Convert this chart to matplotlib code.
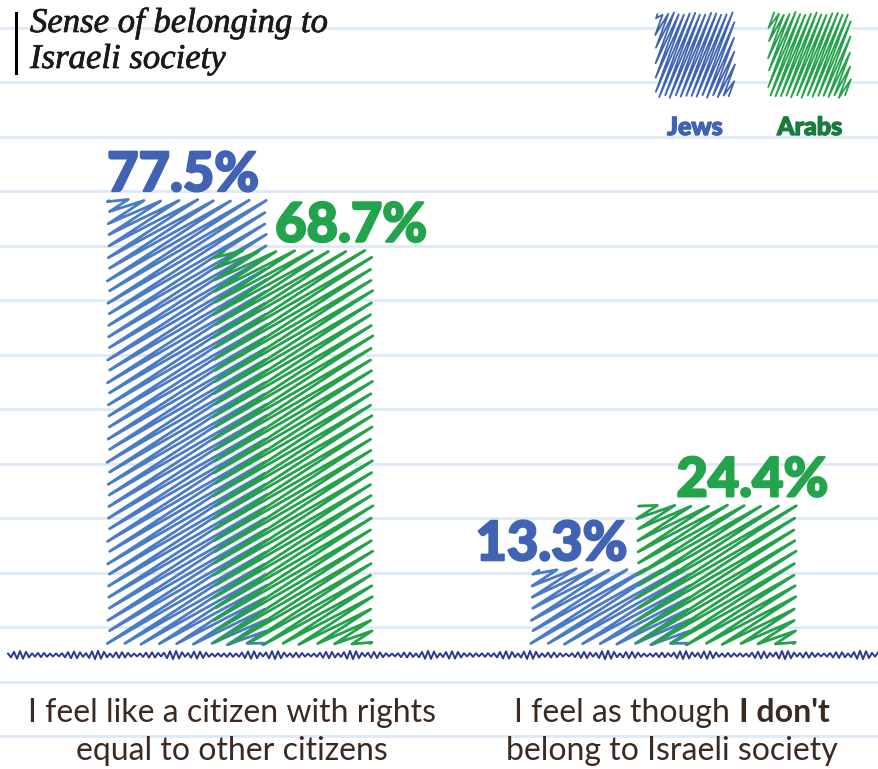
import matplotlib.pyplot as plt
import matplotlib.patheffects as pe
import numpy as np
from matplotlib.lines import Line2D
from matplotlib.transforms import IdentityTransform

# data
cat_line1 = ['I feel like a citizen with rights', 'I feel as though ']
cat_bold1 = ['', "I don't"]
cat_line2 = ['equal to other citizens', 'belong to Israeli society']
groups = ['Jews', 'Arabs']
jews = [77.5, 13.3]
arabs = [68.7, 24.4]

W, H = 879, 769
BLUE_TXT = '#4063b3'
BLUE_BAR = '#4a7bc4'
GREEN_TXT = '#22a34c'
GREEN_BAR = '#23a14b'
ARABS_LEG = '#1b7a3d'
BROWN = '#3a2a22'
RULE = '#dce9f6'
NAVY = '#2b3a8e'

fig = plt.figure(figsize=(W / 100, H / 100), dpi=100)
fig.patch.set_facecolor('white')


def fy(p):
    # pixel from top -> figure fraction
    return 1 - p / H


# notebook rules
for k in range(14):
    yy = fy(27.5 + 54.5 * k)
    fig.add_artist(Line2D([0, 1], [yy, yy], transform=fig.transFigure,
                          color=RULE, lw=1.9, zorder=0))

ax = fig.add_axes([0, fy(645), 1, 5.75 * 90 / H])
ax.set_xlim(-0.567, 1.509)
ax.set_ylim(0, 90)
ax.axis('off')
ax.patch.set_alpha(0)

x = np.arange(len(jews))
bw = 0.378
off = 0.125
b_j = ax.bar(x - off, jews, bw, color='none', edgecolor='none')
b_a = ax.bar(x + off, arabs, bw, color='none', edgecolor='none')


def scribble(x0, y0, x1, y1, angle, perp, color, lw, phase, z):
    # back-and-forth pen strokes filling a box, in display pixels
    k = np.tan(np.radians(angle))
    step = perp / np.cos(np.radians(angle))
    cmin = y0 - k * x1
    cmax = y1 - k * x0
    xs, ys = [], []
    i = 0
    for c in np.arange(cmin + step * 0.3, cmax, step):
        xa = max(x0, (y0 - c) / k)
        xb = min(x1, (y1 - c) / k)
        if xb - xa < 3:
            continue
        L = np.hypot(xb - xa, k * (xb - xa))
        ux, uy = (xb - xa) / L, k * (xb - xa) / L
        ja = 3.0 * abs(np.sin(1.37 * i + phase))
        jb = 3.0 * abs(np.cos(0.83 * i + phase))
        xs += [xa + ux * ja, xb - ux * jb]
        ys += [k * xa + c + uy * ja, k * xb + c - uy * jb]
        i += 1
    fig.add_artist(Line2D(xs, ys, transform=IdentityTransform(), color=color,
                          lw=lw, solid_joinstyle='round', solid_capstyle='round',
                          zorder=z))


fig.canvas.draw()
for bars, col, ph, z in [(b_j, BLUE_BAR, 0.3, 3), (b_a, GREEN_BAR, 1.1, 4)]:
    for r in bars:
        (px0, py0), (px1, py1) = ax.transData.transform(
            [(r.get_x(), 0), (r.get_x() + r.get_width(), r.get_height())])
        scribble(px0, py0, px1, py1, 33, 9.5, col, 2.0, ph, z)

# value labels
lab_font = dict(family=['Lato', 'DejaVu Sans'], weight='black', fontsize=39)
specs = [
    (b_j[0], jews[0], BLUE_TXT, 'left', 'left', 0),
    (b_a[0], arabs[0], GREEN_TXT, 'jright', 'left', 8),
    (b_j[1], jews[1], BLUE_TXT, 'aleft', 'right', -9),
    (b_a[1], arabs[1], GREEN_TXT, 'left', 'left', 40),
]
for r, v, col, anchor, ha, dx in specs:
    if anchor == 'left':
        xa = r.get_x()
    elif anchor == 'jright':
        xa = b_j[0].get_x() + b_j[0].get_width()
    else:
        xa = b_a[1].get_x()
    ax.annotate(f'{v}%', (xa, v), xytext=(dx * 0.72, 6), textcoords='offset points',
                ha=ha, va='baseline', color=col,
                path_effects=[pe.withStroke(linewidth=1.6, foreground=col)], **lab_font)

# baseline scribble
bx = np.arange(8, W + 1, 3.0)
n = np.arange(len(bx))
amp = 1.4 + 2.8 * np.abs(np.sin(n * 0.37)) * np.abs(np.cos(n * 0.11))
by = (H - 655) + amp * np.where(n % 2 == 0, 1, -1)
fig.add_artist(Line2D(bx, by, transform=IdentityTransform(), color=NAVY, lw=1.4, zorder=5))

# category labels
cat_font = dict(family=['Lato', 'DejaVu Sans'], fontsize=23, color=BROWN)
renderer = fig.canvas.get_renderer()
for i in range(len(x)):
    xc = x[i] - 0.02 if i == 0 else x[i] + 0.02
    cx = ax.transData.transform((xc, 0))[0]
    if cat_bold1[i]:
        t1 = fig.text(0, fy(722), cat_line1[i], ha='left', va='baseline', **cat_font)
        t2 = fig.text(0, fy(722), cat_bold1[i], ha='left', va='baseline',
                      fontweight='bold', **cat_font)
        w1 = t1.get_window_extent(renderer).width
        w2 = t2.get_window_extent(renderer).width
        t1.set_x((cx - (w1 + w2) / 2) / W)
        t2.set_x((cx - (w1 + w2) / 2 + w1) / W)
    else:
        fig.text(cx / W, fy(722), cat_line1[i], ha='center', va='baseline', **cat_font)
    fig.text(cx / W, fy(760), cat_line2[i], ha='center', va='baseline', **cat_font)

# title
fig.add_artist(Line2D([16 / W, 16 / W], [fy(13), fy(73)], transform=fig.transFigure,
                      color='black', lw=2.2))
title_font = dict(family=['Liberation Serif', 'DejaVu Serif'], style='italic',
                  fontsize=25, color='#1a1a1a',
                  path_effects=[pe.withStroke(linewidth=0.5, foreground='#1a1a1a')])
fig.text(30 / W, fy(32), 'Sense of belonging to', ha='left', va='baseline', **title_font)
fig.text(30 / W, fy(68), 'Israeli society', ha='left', va='baseline', **title_font)

# legend
leg = [(groups[0], 655, 735, BLUE_TXT, BLUE_TXT), (groups[1], 768, 851, GREEN_BAR, ARABS_LEG)]
for j, (name, lx0, lx1, scol, tcol) in enumerate(leg):
    scribble(lx0, H - 98, lx1, H - 12, 70, 5.0, scol, 1.3, 0.7 + j, 4)
    fig.text((lx0 + lx1) / 2 / W, fy(135), name, ha='center', va='baseline',
             family=['Lato', 'DejaVu Sans'], weight='black', fontsize=18, color=tcol,
             path_effects=[pe.withStroke(linewidth=1.0, foreground=tcol)])

fig.savefig('out.png', dpi=100, facecolor='white')
